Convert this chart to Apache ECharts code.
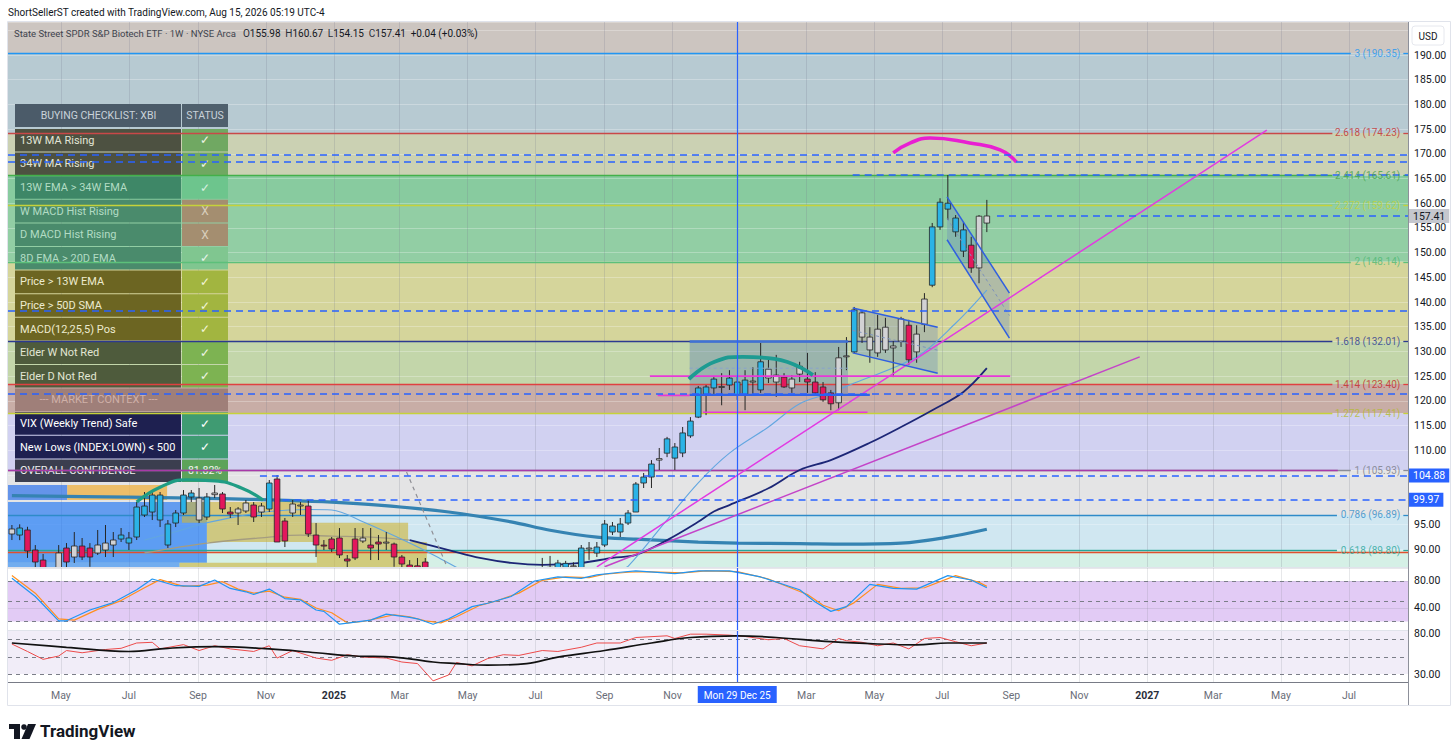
<!DOCTYPE html>
<html>
<head>
<meta charset="utf-8">
<title>XBI weekly chart</title>
<script src="https://cdn.jsdelivr.net/npm/echarts@6.0.0/dist/echarts.min.js"></script>
<style>
html,body{margin:0;padding:0;background:#ffffff;overflow:hidden;}
#chart{width:1456px;height:755px;}
</style>
</head>
<body>
<div id="chart"></div>
<script>
// ===================== DATA =====================
const firstWeek = '2024-03-18';           // Monday of candle index 0 (weekly bars)
const crosshairDate = '2025-12-29';
const crosshairText = 'Mon 29 Dec 25';

const opens = [93.04,92.83,93.85,89.8,87.77,85.5,85.5,90.2,88.38,90.61,
 90.2,89.19,89.8,90.81,92.02,91.21,92.43,96.88,97.49,100.93,
 90.81,95.26,97.29,100.53,100.32,96.48,101.0,101.14,97.49,97.29,
 97.7,98.91,97.49,98.1,104.17,95.67,97.29,98.9,98.7,92.83,
 90.8,92.02,92.23,87.98,92.02,91.62,90.81,91.42,91.4,91.01,
 88.38,86.76,86.6,87.37,85.4,80.5,76.0,77.5,79.0,80.5,
 78.0,79.5,77.5,80.0,82.0,83.5,82.5,84.0,85.8,86.0,
 86.2,86.3,86.6,86.2,90.0,89.19,90.81,93.44,93.44,95.26,
 97.49,103.36,104.57,108.0,109.4,108.4,109.43,112.9,116.7,121.2,
 122.6,122.9,123.2,121.2,121.2,124.0,122.2,126.4,125.2,124.8,
 122.6,125.4,124.4,123.8,122.8,121.6,119.6,128.9,129.9,137.8,
 132.9,129.7,134.9,131.1,132.1,135.3,129.9,135.5,143.4,155.2,
 158.8,157.0,154.6,151.5,146.9,155.98];
const closes = [94.05,94.25,89.6,87.37,85.8,84.6,89.2,87.37,90.61,88.38,
 88.38,90.81,91.21,91.82,92.83,92.23,98.5,98.7,100.93,95.87,
 95.06,97.29,100.93,101.34,95.87,100.53,101.34,98.1,97.08,98.1,
 99.31,96.48,98.7,103.36,91.42,91.62,99.11,98.7,93.04,90.81,
 90.61,90.0,88.79,87.57,88.18,92.23,90.2,91.01,91.3,88.38,
 86.96,86.0,85.4,85.6,80.5,76.0,77.5,79.0,80.5,78.0,
 79.5,77.5,80.0,82.0,83.5,82.5,84.0,85.0,86.2,86.3,
 87.17,87.1,86.5,90.2,90.2,90.4,95.06,94.66,95.06,97.29,
 103.16,104.57,107.2,108.3,112.3,110.65,113.5,115.9,122.6,122.8,
 124.4,122.7,124.6,123.8,124.2,123.8,127.9,124.6,123.8,122.8,
 124.4,127.0,123.8,121.6,120.2,119.4,128.7,129.1,138.4,132.9,
 130.3,134.5,130.3,130.7,136.6,128.3,133.5,140.6,155.2,160.2,
 160.0,154.2,150.3,146.9,157.37,157.41];
const lows = [91.82,91.8,88.2,86.0,84.8,83.2,84.5,86.3,87.17,87.77,
 86.4,88.79,88.38,88.38,91.42,89.8,91.82,96.48,95.87,94.45,
 90.2,94.45,96.88,99.51,95.26,95.87,100.32,97.29,96.28,94.86,
 97.29,95.47,96.48,97.49,91.42,90.4,96.48,96.88,92.43,88.38,
 89.8,89.4,88.18,86.36,87.77,91.21,87.77,87.77,89.8,86.4,
 86.2,85.0,84.2,84.0,79.8,66.7,73.5,75.5,77.5,77.0,
 76.0,76.5,77.0,79.0,81.0,81.5,82.0,83.0,84.5,84.8,
 85.4,85.5,85.6,85.8,87.8,88.38,90.4,92.83,92.43,94.86,
 97.49,102.35,102.35,106.0,108.6,106.0,108.6,112.5,116.5,117.1,
 121.2,119.1,122.2,120.2,118.1,121.2,121.6,123.6,120.8,122.6,
 121.6,123.8,121.6,121.2,119.8,118.1,118.1,126.2,129.7,131.7,
 127.7,128.9,129.7,124.8,130.9,127.3,127.7,133.9,143.0,154.6,
 156.6,153.2,149.1,145.9,143.8,154.15];
const highs = [94.86,95.0,94.5,90.8,89.0,86.2,90.8,91.21,93.44,92.23,
 91.2,93.85,94.86,93.44,94.25,93.44,99.51,101.54,101.94,101.54,
 95.87,97.89,101.94,101.94,102.35,101.34,102.96,101.54,98.5,98.5,
 99.92,99.51,99.31,103.97,104.98,96.28,99.92,99.51,99.92,95.26,
 91.82,92.43,94.25,88.79,94.25,94.25,94.25,92.83,93.44,91.3,
 88.79,87.77,88.18,88.18,86.0,81.0,79.0,80.0,82.0,81.5,
 80.5,80.0,81.0,83.0,84.5,84.5,85.0,86.2,88.2,88.6,
 87.8,87.6,87.3,90.81,91.42,91.42,95.87,95.47,96.28,97.89,
 103.56,105.39,108.0,110.45,112.7,111.46,114.7,116.7,123.0,123.2,
 124.8,125.6,126.2,124.8,126.2,126.8,131.7,128.3,129.3,125.6,
 125.2,127.9,129.7,125.8,123.8,122.2,130.9,132.9,139.0,138.4,
 134.9,137.4,136.8,132.1,137.0,136.4,135.3,141.8,156.0,161.0,
 165.7,157.6,156.2,153.2,157.6,160.67];
// Elder impulse state per bar: 1 bullish, -1 bearish, 0 neutral
const impulse = [0,1,-1,-1,-1,-1,0,-1,0,-1,
 -1,0,0,0,1,1,1,1,1,1,
 1,1,1,1,0,1,0,-1,-1,0,
 0,-1,0,1,-1,-1,0,0,-1,-1,
 -1,-1,-1,-1,-1,0,-1,-1,0,-1,
 -1,-1,-1,-1,-1,-1,0,0,1,-1,
 0,-1,1,1,1,0,1,1,0,0,
 1,1,0,1,0,1,1,1,1,1,
 1,1,1,0,1,1,1,1,1,1,
 1,0,1,1,1,0,1,0,0,-1,
 0,0,-1,-1,-1,-1,0,0,1,0,
 0,0,0,0,0,-1,0,0,1,1,
 1,1,1,-1,0,0];

// moving averages: [bar index, price]
const maLong = [[0,100.8],[15,100.5],[27,100.2],[34,99.9],[41,99.5],[47,98.9],[56,97.5],[64,95.5],[69,93.8],[75,92.4],[80,92.0],[88,91.4],[93,91.2],[101,91.1],[107,91.0],[114,91.2],[120,92.4],[125,94.0]];
const maMidOld = [[17,89.2],[25,91.2],[33,92.4],[37,92.8],[41,92.6],[46,92.4],[51,91.8]];
const maMid = [[51,91.8],[56,89.8],[60,88.2],[64,87.2],[68,86.8],[73,87.2],[77,88.2],[80,88.8],[84,91.8],[88,95.5],[90,97.6],[92,98.9],[97,102.3],[101,106.0],[105,108.0],[110,111.5],[114,114.7],[118,118.1],[122,121.8],[125,126.6]];
const maShort = [[17,91.8],[21,93.5],[25,95.3],[29,96.6],[33,97.6],[38,98.0],[41,97.9],[45,95.5],[51,91.2],[55,88.0],[58,85.5],[62,83.0],[66,82.0],[70,82.5],[74,84.0],[78,86.0],[79,86.5],[84,95.9],[88,103.4],[92,109.4],[97,114.7],[101,119.4],[105,121.6],[108,123.6],[116,128.9],[121,135.7],[125,142.4]];

// stochastic pane: [bar index, value]
const stochK = [[0,84],[3,57],[6,21],[7,21],[10,37],[13,48],[16,67],[18,83],[21,73],[24,72],[26,81.5],[28,69],[30,64],[31,60],[33,68],[35,54],[37,52],[39,37],[40,35],[42,16],[44,19],[46,22],[48,31],[51,26],[52,24],[54,16],[56,24],[59,42],[61,47],[64,57],[67,80],[70,86],[73,84],[75,89],[78,93],[80,95],[85,91],[88,95],[92,95],[96,86],[101,67],[103,49],[105,35],[107,42],[110,75],[113,69],[116,68],[120,88],[123,81.5],[125,70]];
const stochD = [[0,88],[3,62],[6,24],[8,22],[11,38],[14,51],[17,70],[19,82],[22,72],[25,74],[27,79],[29,68],[31,62],[33,65],[35,56],[37,53],[39,40],[41,33],[43,18],[45,20],[47,25],[49,30],[51,27],[53,21],[55,18],[57,27],[60,44],[62,50],[65,62],[68,81],[71,86],[74,85],[76,90],[79,93],[81,94],[86,92],[89,95],[93,94],[97,83],[102,60],[104,44],[106,36],[108,48],[111,75],[114,69],[117,70],[121,88],[124,78],[125,72]];
// RSI pane: [bar index, value]
const rsi = [[0,65],[2,56.3],[4,47.1],[6,51],[7,57.4],[9,54.8],[12,58.6],[14,60],[16,66.2],[18,67],[19,59.3],[22,64.3],[24,57.4],[26,63],[28,59.3],[31,56.3],[33,63],[34,48.6],[36,57.4],[39,48.6],[41,46],[43,52.5],[45,49.8],[48,48.6],[50,44],[52,42.2],[54,22],[56,28.9],[57,43.4],[59,39.5],[61,48],[63,52.5],[65,51.7],[68,57.4],[70,56.3],[73,61.2],[75,66.2],[78,66.2],[80,72.6],[84,74.6],[85,71.5],[87,76.5],[89,76.5],[92,75.4],[94,73.8],[97,70],[99,71.5],[101,63],[104,59.3],[106,71.5],[107,68.9],[109,67],[111,63],[113,66.2],[115,59.3],[117,71.5],[119,72.6],[121,67.7],[123,63],[125,66.2]];
const rsiMa = [[0,66.2],[7,61.2],[15,56.3],[20,60],[26,62],[33,59.3],[39,54.8],[44,51],[49,49.8],[54,44],[57,42.2],[61,40.3],[66,42.2],[70,49.8],[76,57.4],[82,66.2],[87,72.6],[93,74.6],[98,72.6],[105,67.7],[111,65],[116,64],[120,66.2],[125,66.2]];

// Fibonacci extension levels
const fibRatios = ['3','2.618','2.414','2.272','2','1.618','1.414','1.272','1','0.786','0.618'];
const fibPrices = [190.35,174.23,165.61,159.62,148.14,132.01,123.40,117.41,105.93,96.89,89.80];
// horizontal price lines (alerts) and where they start [bar index]
const alertPrices = [169.76,168.34,165.70,157.41,138.20,121.40,104.88,99.97];
const alertFrom = [-0.5,-0.5,107.8,126.3,-0.5,-0.5,31.8,34.7];
const badgePrices = [157.41,104.88,99.97];
const extraLevels = [105.99,89.40];
const extraLevelTo = [170,179];

// drawings, in [bar index, price]
const trendLines = [[[75,86.4],[160.9,174.8]],[[76,86.4],[144.6,128.9]]];
const magentaLevels = [[[81.8,125.0],[128,125.0]],[[88.6,117.7],[109.7,117.7]],[[82.8,121.1],[86.9,121.1]]];
const dashedDiag = [[50.6,105.6],[55.8,86.4]];
const consolBox = [[86.9,132.0],[107.2,121.2]];
const consolTop = [[86.9,132.0],[107.2,132.0]];
const consolBottom = [[86.9,121.2],[110,121.2]];
const consolMid = [[86.9,126.6],[107.2,126.6]];
const channels = [
  {top:[[107.8,138.8],[118.7,134.9]], bottom:[[107.8,129.7],[118.7,125.6]]},
  {top:[[119.9,161.3],[127.9,141.8]], bottom:[[119.9,152.6],[127.9,132.7]]}
];
const arcLeft = [[16,99.5],[19,102.5],[22.4,104.0],[26,103.8],[29.5,102.3],[32.2,99.9]];
const arcMid = [[86.8,124.4],[90.1,127.9],[93.7,128.9],[97.8,128.5],[102.7,125.2]];
const arcTop = [[113,170.2],[115.2,172.2],[117.7,173.2],[122.8,172.2],[126.7,170.8],[128.8,168.3]];
const leftZones = [
  [[-0.5,102.96],[7.1,99.9]],
  [[7.1,102.96],[19.9,99.9]],
  [[-0.5,99.5],[25,87.2]],
  [[-0.5,87.2],[21.5,86.36]],
  [[21.8,99.5],[37.8,95.3]],
  [[25,95.3],[50.8,91.4]],
  [[39.1,91.4],[53.2,86.36]],
  [[21.5,87.2],[39.1,86.36]]
];

// time axis tick labels
const tickDates = ['2024-05-01','2024-07-01','2024-09-01','2024-11-01','2025-01-01','2025-03-01','2025-05-01','2025-07-01','2025-09-01','2025-11-01','2026-03-01','2026-05-01','2026-07-01','2026-09-01','2026-11-01','2027-01-01','2027-03-01','2027-05-01','2027-07-01'];
const tickTexts = ['May','Jul','Sep','Nov','2025','Mar','May','Jul','Sep','Nov','Mar','May','Jul','Sep','Nov','2027','Mar','May','Jul'];
// price-scale labels that the badges cover
const coveredPriceLabels = [100, 105];

// checklist table
const checklistItems = ['13W MA Rising','34W MA Rising','13W EMA > 34W EMA','W MACD Hist Rising','D MACD Hist Rising','8D EMA > 20D EMA','Price > 13W EMA','Price > 50D SMA','MACD(12,25,5) Pos','Elder W Not Red','Elder D Not Red','--- MARKET CONTEXT ---','VIX (Weekly Trend) Safe','New Lows (INDEX:LOWN) < 500','OVERALL CONFIDENCE'];
const checklistStatus = ['✓','✓','✓','X','X','✓','✓','✓','✓','✓','✓','','✓','✓','81.82%'];

const headerCredit = 'ShortSellerST created with TradingView.com, Aug 15, 2026 05:19 UTC-4';
const titleName = 'State Street SPDR S&P Biotech ETF · 1W · NYSE Arca';

// ===================== STYLE =====================
const FONT = 'Roboto, "Liberation Sans", Arial, sans-serif';
const Y_MIN = 86.36, Y_MAX = 196.68, X_MIN = -0.5, X_MAX = 179;
const PLOT_W = 1400;
const pxPerIdx = PLOT_W / (X_MAX - X_MIN);
const bandColors = ['#ccc5c0','#b7cad2','#cbd1b3','#88cb9f','#92cea4','#d5d59b','#c3d6aa','#c8ada6','#d1d1f1','#e4e4e5','#d0e7f1','#d5f0e6'];
const fibLineColors = ['#2196f3','#c94848','#43b04a','#c6d23a','#5cc07a','#2b3990','#e04040','#c6d23a','#8a8d96','#2e8bc9','#26a69a'];
const fibTextColors = ['#2196f3','#c62828','#43a047','#c6d23a','#4fb874','#283593','#c62828','#b3bb2a','#787b86','#2e8bc9','#26a69a'];
const zoneColors = ['rgba(40,110,235,0.68)','rgba(240,180,70,0.78)','rgba(33,118,245,0.66)','rgba(33,118,245,0.55)','rgba(205,180,60,0.62)','rgba(205,180,60,0.62)','rgba(205,180,60,0.62)','rgba(205,180,60,0.62)'];
const impulseColors = {'1':'#2bb3e6','-1':'#e3175c','0':'#d2d2d4'};
const CANDLE_EDGE = '#262626';
const CANDLE_W = 5.6;
const rowLeft = ['#4d5141','#4d5141','#3e8767','#4a8b6c','#4a8b6c','#4a8b6c','#6c6522','#6c6522','#6c6522','#4e5b3c','#4e5b3c','#9f7f79','#1e2050','#1e2050','#3b3e4f'];
const rowRight = ['#70a862','#70a862','#6dc58d','#a48e70','#a48e70','#80c690','#a2b540','#a2b540','#a2b540','#7db352','#7db352','#9f7f79','#3f9b72','#3f9b72','#5ca35a'];
const rowText = ['#e2e5d6','#e2e5d6','#b2dcc4','#b2dcc4','#b2dcc4','#b2dcc4','#ecebd0','#ecebd0','#ecebd0','#e2e6d4','#e2e6d4','#cfb0a8','#ffffff','#ffffff','#eeeeee'];
const statusText = ['#eef3e6','#eef3e6','#d8f0e0','#d9cfbd','#d9cfbd','#e6f4ea','#f1f4d8','#f1f4d8','#f1f4d8','#eef3e6','#eef3e6','#ffffff','#ffffff','#ffffff','#f3f6f0'];

// ===================== BUILD =====================
const dayMs = 86400000;
const weekIdx = d => (Date.parse(d) - Date.parse(firstWeek)) / (7 * dayMs);
const tickIdx = tickDates.map(weekIdx);
const crossIdx = weekIdx(crosshairDate);

const candleData = opens.map((o, i) => [i, o, closes[i], lows[i], highs[i], impulse[i]]);

const bandRanges = [[fibPrices[0], Y_MAX]];
for (let i = 1; i < fibPrices.length; i++) bandRanges.push([fibPrices[i], fibPrices[i - 1]]);
bandRanges.push([Y_MIN, fibPrices[fibPrices.length - 1]]);

const fibLabel = i => fibRatios[i] + ' (' + fibPrices[i].toFixed(2) + ')';

function lineSeries(data, color, width, opts) {
  return Object.assign({
    type: 'line', xAxisIndex: 0, yAxisIndex: 0, data: data, showSymbol: false, symbol: 'none',
    silent: true, clip: true, z: 4, animation: false,
    lineStyle: {color: color, width: width}
  }, opts || {});
}

const series = [];

// background fib bands + vertical month grid (main pane)
series.push({
  type: 'line', xAxisIndex: 0, yAxisIndex: 0, data: [], silent: true,
  markArea: {z: -1, silent: true, label: {show: false},
    data: bandRanges.map((r, i) => [{yAxis: r[0], itemStyle: {color: bandColors[i]}}, {yAxis: r[1]}])},
  markLine: {z: 0.5, silent: true, symbol: 'none', label: {show: false},
    lineStyle: {color: 'rgba(120,125,140,0.22)', width: 1, type: 'solid'},
    data: tickIdx.map(v => ({xAxis: v}))}
});

// left zones + consolidation box
series.push({
  type: 'line', xAxisIndex: 0, yAxisIndex: 0, data: [], silent: true,
  markArea: {z: 1, silent: true, label: {show: false},
    data: leftZones.map((r, i) => [{coord: r[0], itemStyle: {color: zoneColors[i]}}, {coord: r[1]}])
      .concat([[{coord: consolBox[0], itemStyle: {color: 'rgba(75,115,175,0.34)'}}, {coord: consolBox[1]}]])}
});

// fib lines (split around their labels) and extra levels
const fibML = [];
fibPrices.forEach((p, i) => {
  const txtW = fibLabel(i).length * 4.6 + 5;
  const endIdx = 178.2 - txtW / pxPerIdx;
  fibML.push([{coord: [X_MIN, p], lineStyle: {color: fibLineColors[i], width: 1.3, type: 'solid'}}, {coord: [endIdx, p]}]);
  fibML.push([{coord: [178.4, p], lineStyle: {color: fibLineColors[i], width: 1.3, type: 'solid'}}, {coord: [X_MAX, p]}]);
});
extraLevels.forEach((p, i) => {
  fibML.push([{coord: [X_MIN, p], lineStyle: {color: i === 0 ? '#a83aa8' : '#e0502e', width: 1.3, type: 'solid'}}, {coord: [extraLevelTo[i], p]}]);
});
series.push({
  type: 'line', xAxisIndex: 0, yAxisIndex: 0, data: [], silent: true,
  markLine: {z: 1.5, silent: true, symbol: 'none', label: {show: false}, data: fibML}
});

// channel fills
series.push({
  type: 'custom', xAxisIndex: 0, yAxisIndex: 0, z: 2, silent: true, clip: true,
  data: channels.map(c => c.top[0]),
  renderItem: (params, api) => {
    const ch = channels[params.dataIndex];
    const pts = [ch.top[0], ch.top[1], ch.bottom[1], ch.bottom[0]].map(p => api.coord(p));
    return {type: 'polygon', shape: {points: pts}, style: {fill: 'rgba(110,140,185,0.36)'}};
  }
});

// moving averages
series.push(lineSeries(maLong, '#3583b2', 3.2, {z: 2, smooth: 0.35}));
series.push(lineSeries(maMidOld, '#a59d80', 1.3, {z: 2, smooth: 0.35}));
series.push(lineSeries(maMid, '#1c2676', 1.8, {z: 2, smooth: 0.35}));
series.push(lineSeries(maShort, '#62a6e0', 1.1, {z: 2, smooth: 0.35}));

// candles (custom series so partly-visible bars are clipped at the pane edge)
series.push({
  type: 'custom', xAxisIndex: 0, yAxisIndex: 0, z: 3, clip: true, silent: true,
  dimensions: ['idx', 'open', 'close', 'low', 'high', 'impulse'],
  encode: {x: 0, y: [1, 2, 3, 4]},
  data: candleData,
  renderItem: (params, api) => {
    const x = api.value(0);
    const pO = api.coord([x, api.value(1)]);
    const pC = api.coord([x, api.value(2)]);
    const pL = api.coord([x, api.value(3)]);
    const pH = api.coord([x, api.value(4)]);
    const fill = impulseColors[String(api.value(5))];
    const top = Math.min(pO[1], pC[1]);
    const h = Math.max(Math.abs(pO[1] - pC[1]), 1);
    return {type: 'group', children: [
      {type: 'line', shape: {x1: pH[0], y1: pH[1], x2: pL[0], y2: pL[1]}, style: {stroke: CANDLE_EDGE, lineWidth: 1}},
      {type: 'rect', shape: {x: pO[0] - CANDLE_W / 2, y: top, width: CANDLE_W, height: h}, style: {fill: fill, stroke: CANDLE_EDGE, lineWidth: 0.8}}
    ]};
  }
});

// drawings
trendLines.forEach((t, i) => series.push(lineSeries(t, i === 0 ? '#e23ae2' : '#c444c8', 1.5)));
magentaLevels.forEach(t => series.push(lineSeries(t, '#e838d8', 1.6)));
series.push(lineSeries(dashedDiag, '#8f8f95', 1.2, {lineStyle: {color: '#8f8f95', width: 1.2, type: [4, 4]}}));
series.push(lineSeries(consolTop, '#3f72d6', 2.4));
series.push(lineSeries(consolBottom, '#2f62e8', 2.4));
series.push(lineSeries(consolMid, '#7d97c4', 1, {lineStyle: {color: '#8aa2cc', width: 1, type: [3, 3]}}));
channels.forEach(c => {
  series.push(lineSeries(c.top, '#2f5fe0', 1.5));
  series.push(lineSeries(c.bottom, '#2f5fe0', 1.5));
  series.push(lineSeries([[c.top[0][0], (c.top[0][1] + c.bottom[0][1]) / 2], [c.top[1][0], (c.top[1][1] + c.bottom[1][1]) / 2]], '#7a8fb8', 1, {lineStyle: {color: '#7d92bb', width: 1, type: [3, 3]}}));
});
series.push(lineSeries(arcLeft, '#1f9d84', 3.2, {smooth: true}));
series.push(lineSeries(arcMid, '#1d9b92', 3.8, {smooth: true}));
series.push(lineSeries(arcTop, '#e81fd2', 3.6, {smooth: true}));

// alert (dashed) price lines + badges
const badgeBg = ['#c5c7ce', '#2962ff', '#2962ff'];
const badgeFg = ['#131722', '#ffffff', '#ffffff'];
series.push({
  type: 'line', xAxisIndex: 0, yAxisIndex: 0, data: [], silent: true,
  markLine: {z: 5, silent: true, symbol: 'none', label: {show: false},
    lineStyle: {color: '#2962ff', width: 1.6, type: [7, 5]},
    data: alertPrices.map((p, i) => {
      const item = [{coord: [alertFrom[i], p]}, {coord: [X_MAX, p]}];
      const b = badgePrices.indexOf(p);
      if (b >= 0) item[0].label = {show: true, position: 'end', distance: 1, formatter: p.toFixed(2),
        backgroundColor: badgeBg[b], color: badgeFg[b], padding: [2, 4, 1, 4], fontSize: 10.5, fontFamily: FONT};
      return item;
    })}
});

// fib labels
series.push({
  type: 'scatter', xAxisIndex: 0, yAxisIndex: 0, z: 6, silent: true, symbolSize: 1,
  itemStyle: {color: 'rgba(0,0,0,0)'},
  data: fibPrices.map((p, i) => ({value: [178.2, p],
    label: {show: true, position: 'left', distance: 1, formatter: fibLabel(i), color: fibTextColors[i], fontSize: 10, fontFamily: FONT}}))
});

// crosshair helpers
function crossLine(g, withLabel) {
  return {type: 'line', xAxisIndex: g, yAxisIndex: g, data: [], silent: true,
    markLine: {z: 6, silent: true, symbol: 'none', lineStyle: {color: '#2962ff', width: 1.2, type: 'solid'},
      label: withLabel ? {show: true, position: 'start', distance: 4, formatter: crosshairText,
        backgroundColor: '#2962ff', color: '#ffffff', padding: [4, 6, 3, 6], fontSize: 10, fontFamily: FONT} : {show: false},
      data: [{xAxis: crossIdx}]}};
}
series.push(crossLine(0, false));

// stochastic pane
series.push({
  type: 'line', xAxisIndex: 1, yAxisIndex: 1, data: [], silent: true,
  markArea: {z: -1, silent: true, label: {show: false}, data: [[{yAxis: 20, itemStyle: {color: '#e2cbf5'}}, {yAxis: 80}]]},
  markLine: {z: 0.5, silent: true, symbol: 'none', label: {show: false},
    data: [80, 50, 20].map(v => ({yAxis: v, lineStyle: {color: '#7b7e88', width: 1, type: [4, 4]}}))
      .concat(tickIdx.map(v => ({xAxis: v, lineStyle: {color: 'rgba(120,125,140,0.18)', width: 1, type: 'solid'}})))}
});
series.push(lineSeries(stochD, '#ff8f1f', 1.2, {xAxisIndex: 1, yAxisIndex: 1, z: 3}));
series.push(lineSeries(stochK, '#2196f3', 1.2, {xAxisIndex: 1, yAxisIndex: 1, z: 3}));
series.push(crossLine(1, false));

// RSI pane
series.push({
  type: 'line', xAxisIndex: 2, yAxisIndex: 2, data: [], silent: true,
  markArea: {z: -1, silent: true, label: {show: false}, data: [[{yAxis: 30, itemStyle: {color: '#f1edf8'}}, {yAxis: 80.2}]]},
  markLine: {z: 0.5, silent: true, symbol: 'none', label: {show: false},
    data: [70, 50, 30].map(v => ({yAxis: v, lineStyle: {color: '#7b7e88', width: 1, type: [4, 4]}}))
      .concat(tickIdx.map(v => ({xAxis: v, lineStyle: {color: 'rgba(120,125,140,0.18)', width: 1, type: 'solid'}})))}
});
series.push(lineSeries(rsi, '#ec4a4a', 1, {xAxisIndex: 2, yAxisIndex: 2, z: 3}));
series.push(lineSeries(rsiMa, '#111111', 1.7, {xAxisIndex: 2, yAxisIndex: 2, z: 3, smooth: 0.4}));
series.push(crossLine(2, true));

// ---------- graphics: header, table, axis decorations, logo ----------
const graphics = [];
const last = opens.length - 1;
const chg = closes[last] - closes[last - 1];
const pct = chg / closes[last - 1] * 100;
const sgn = v => (v >= 0 ? '+' : '') + v.toFixed(2);
graphics.push({type: 'text', x: 8, y: 12, z: 20, style: {text: headerCredit, font: '10px ' + FONT, fill: '#131722', textVerticalAlign: 'middle', verticalAlign: 'middle'}});
graphics.push({type: 'text', x: 14, y: 33, z: 20, style: {
  text: '{n|' + titleName + '}   {k|O}{v|' + opens[last].toFixed(2) + '}  {k|H}{v|' + highs[last].toFixed(2) + '}  {k|L}{v|' + lows[last].toFixed(2) + '}  {k|C}{v|' + closes[last].toFixed(2) + '}  {v|' + sgn(chg) + ' (' + sgn(pct) + '%)}',
  font: '9.5px ' + FONT, fill: '#3a3e48', textVerticalAlign: 'middle', verticalAlign: 'middle',
  rich: {n: {fontSize: 9.5, fill: '#40444e', color: '#40444e', fontFamily: FONT},
         k: {fontSize: 10, fill: '#2a2e39', color: '#2a2e39', fontFamily: FONT},
         v: {fontSize: 10, fill: '#131722', color: '#131722', fontFamily: FONT}}
}});

// checklist table
const TX0 = 15, TXS = 182, TX2 = 228;
graphics.push({type: 'rect', z: 1, shape: {x: TX0, y: 104, width: TXS - TX0 - 1, height: 23}, style: {fill: '#4b5b69'}});
graphics.push({type: 'rect', z: 1, shape: {x: TXS, y: 104, width: TX2 - TXS, height: 23}, style: {fill: '#4f606d'}});
graphics.push({type: 'text', z: 1, x: (TX0 + TXS) / 2, y: 115.5, style: {text: 'BUYING CHECKLIST: XBI', font: '10.5px ' + FONT, fill: '#c9d2d9', textAlign: 'center', align: 'center', textVerticalAlign: 'middle', verticalAlign: 'middle'}});
graphics.push({type: 'text', z: 1, x: (TXS + TX2) / 2, y: 115.5, style: {text: 'STATUS', font: '10.5px ' + FONT, fill: '#c9d2d9', textAlign: 'center', align: 'center', textVerticalAlign: 'middle', verticalAlign: 'middle'}});
checklistItems.forEach((t, k) => {
  const top = 129 + k * 23.6, h = 22.6, cy = top + h / 2;
  const isSection = checklistStatus[k] === '';
  if (isSection) {
    graphics.push({type: 'rect', z: 1, shape: {x: TX0, y: top, width: TX2 - TX0, height: h}, style: {fill: rowLeft[k]}});
    graphics.push({type: 'text', z: 1, x: (TX0 + TXS) / 2, y: cy, style: {text: t, font: '11px ' + FONT, fill: rowText[k], textAlign: 'center', align: 'center', textVerticalAlign: 'middle', verticalAlign: 'middle'}});
  } else {
    graphics.push({type: 'rect', z: 1, shape: {x: TX0, y: top, width: TXS - TX0 - 1, height: h}, style: {fill: rowLeft[k]}});
    graphics.push({type: 'rect', z: 1, shape: {x: TXS, y: top, width: TX2 - TXS, height: h}, style: {fill: rowRight[k]}});
    graphics.push({type: 'text', z: 1, x: 20, y: cy, style: {text: t, font: '11px ' + FONT, fill: rowText[k], textVerticalAlign: 'middle', verticalAlign: 'middle'}});
    graphics.push({type: 'text', z: 1, x: (TXS + TX2) / 2, y: cy, style: {text: checklistStatus[k], font: (checklistStatus[k].length > 2 ? '10.5px ' : '12px ') + FONT, fill: statusText[k], textAlign: 'center', align: 'center', textVerticalAlign: 'middle', verticalAlign: 'middle'}});
  }
});

// frame, pane separators, price-scale divider
graphics.push({type: 'rect', z: 20, shape: {x: 7.5, y: 21.5, width: 1443, height: 684}, style: {fill: 'none', stroke: '#e0e3eb', lineWidth: 1}});
graphics.push({type: 'line', z: 20, shape: {x1: 8, y1: 567.5, x2: 1408, y2: 567.5}, style: {stroke: '#e0e3eb', lineWidth: 1}});
graphics.push({type: 'line', z: 20, shape: {x1: 8, y1: 630.5, x2: 1408, y2: 630.5}, style: {stroke: '#e0e3eb', lineWidth: 1}});
graphics.push({type: 'line', z: 20, shape: {x1: 1408.5, y1: 22, x2: 1408.5, y2: 705}, style: {stroke: '#8d909a', lineWidth: 1}});
graphics.push({type: 'rect', z: 20, shape: {x: 1412, y: 26, width: 32, height: 19, r: 3}, style: {fill: '#ffffff', stroke: '#e6e8ee', lineWidth: 1}});
graphics.push({type: 'text', z: 21, x: 1428, y: 36, style: {text: 'USD', font: '10px ' + FONT, fill: '#131722', textAlign: 'center', align: 'center', textVerticalAlign: 'middle', verticalAlign: 'middle'}});

// TradingView logo
graphics.push({type: 'rect', z: 20, shape: {x: 9, y: 724, width: 11, height: 5}, style: {fill: '#131722'}});
graphics.push({type: 'rect', z: 20, shape: {x: 14, y: 724, width: 6, height: 15}, style: {fill: '#131722'}});
graphics.push({type: 'circle', z: 20, shape: {cx: 24, cy: 727, r: 2.8}, style: {fill: '#131722'}});
graphics.push({type: 'polygon', z: 20, shape: {points: [[28, 724], [36, 724], [29.5, 739], [21.5, 739]]}, style: {fill: '#131722'}});
graphics.push({type: 'text', z: 20, x: 40, y: 731, style: {text: 'TradingView', font: 'bold 17px ' + FONT, fill: '#131722', textVerticalAlign: 'middle', verticalAlign: 'middle'}});

// ===================== OPTION =====================
const hiddenX = g => ({type: 'value', gridIndex: g, min: X_MIN, max: X_MAX, show: false});
const option = {
  animation: false,
  backgroundColor: '#ffffff',
  textStyle: {fontFamily: FONT},
  grid: [
    {left: 8, top: 22, width: PLOT_W, height: 545, outerBoundsMode: 'none'},
    {left: 8, top: 568, width: PLOT_W, height: 62, outerBoundsMode: 'none'},
    {left: 8, top: 631, width: PLOT_W, height: 51, outerBoundsMode: 'none'}
  ],
  xAxis: [
    hiddenX(0), hiddenX(1),
    {type: 'value', gridIndex: 2, min: X_MIN, max: X_MAX, position: 'bottom',
      axisLine: {show: true, lineStyle: {color: '#787b86', width: 1}},
      axisTick: {show: false}, splitLine: {show: false},
      axisLabel: {show: true, customValues: tickIdx, margin: 8, color: '#6a6d78', fontSize: 10.5, fontFamily: FONT,
        formatter: v => {
          let k = 0, best = 1e9;
          tickIdx.forEach((t, j) => { const d = Math.abs(t - v); if (d < best) { best = d; k = j; } });
          const s = tickTexts[k];
          return /^\d{4}$/.test(s) ? '{y|' + s + '}' : s;
        },
        rich: {y: {fontWeight: 'bold', color: '#2a2e39', fontSize: 10.5, fontFamily: FONT}}}}
  ],
  yAxis: [
    {type: 'value', gridIndex: 0, position: 'right', min: Y_MIN, max: Y_MAX, minInterval: 5, maxInterval: 5, splitNumber: 22,
      axisLine: {show: false}, axisTick: {show: false},
      splitLine: {show: true, lineStyle: {color: 'rgba(255,255,255,0.28)', width: 1}},
      axisLabel: {show: true, margin: 6, color: '#131722', fontSize: 10.5, fontFamily: FONT, showMinLabel: false, showMaxLabel: false,
        formatter: v => {
          const onStep = Math.abs(v / 5 - Math.round(v / 5)) < 1e-6;
          const covered = coveredPriceLabels.some(c => Math.abs(c - v) < 1e-6);
          return (onStep && v <= 190.01 && !covered) ? v.toFixed(2) : '';
        }}},
    {type: 'value', gridIndex: 1, position: 'right', min: 7.4, max: 99.26, minInterval: 40, maxInterval: 40,
      axisLine: {show: false}, axisTick: {show: false},
      splitLine: {show: true, lineStyle: {color: 'rgba(120,125,140,0.18)', width: 1}},
      axisLabel: {show: true, margin: 6, color: '#131722', fontSize: 10.5, fontFamily: FONT, showMinLabel: false, showMaxLabel: false,
        formatter: v => (v === 40 || v === 80) ? v.toFixed(2) : ''}},
    {type: 'value', gridIndex: 2, position: 'right', min: 20.67, max: 80.2, minInterval: 10, maxInterval: 10,
      axisLine: {show: false}, axisTick: {show: false}, splitLine: {show: false},
      axisLabel: {show: true, margin: 6, color: '#131722', fontSize: 10.5, fontFamily: FONT, showMinLabel: false, showMaxLabel: false,
        formatter: v => v === 80 ? '{t|80.00}' : (v === 30 ? '30.00' : ''),
        rich: {t: {padding: [5, 0, 0, 0], fontSize: 10.5, color: '#131722', fontFamily: FONT}}}}
  ],
  series: series,
  graphic: {elements: graphics}
};

const chart = echarts.init(document.getElementById('chart'), null, {renderer: 'svg', width: 1456, height: 755});
chart.setOption(option);
</script>
</body>
</html>
